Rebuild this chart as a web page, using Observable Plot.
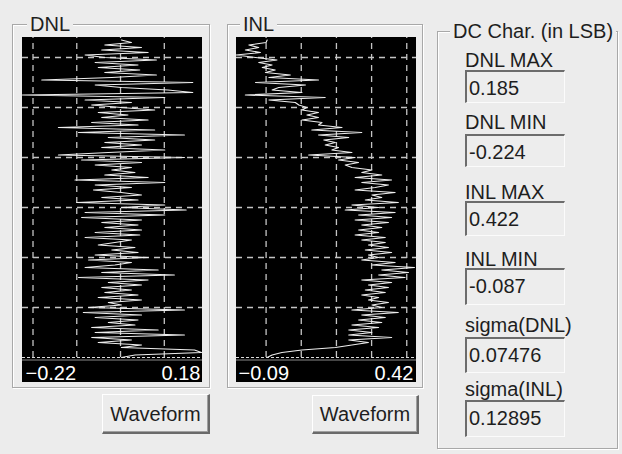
<!DOCTYPE html>
<html>
<head>
<meta charset="utf-8">
<script src="https://cdn.jsdelivr.net/npm/d3@7"></script>
<script src="https://cdn.jsdelivr.net/npm/@observablehq/plot@0.6"></script>
<style>
  body { margin: 0; background: #ececec; font-family: "Liberation Sans", Arial, sans-serif; }
  #app { position: relative; width: 622px; height: 454px; overflow: hidden; background: #ececec; color: #1e1e1e; }
  .group { position: absolute; box-sizing: border-box; border: 1px solid #a8a8a8; box-shadow: inset 1px 1px 0 #fff, 1px 1px 0 #fff; }
  .gtitle { position: absolute; background: #ececec; font-size: 20px; line-height: 20px; padding: 0 3px; white-space: nowrap; }
  .lbl { position: absolute; font-size: 20px; line-height: 20px; white-space: nowrap; }
  .field { position: absolute; box-sizing: border-box; background: #ededed;
           border-top: 2px solid #6c6c6c; border-left: 2px solid #6c6c6c;
           border-right: 1px solid #fbfbfb; border-bottom: 1px solid #fbfbfb; }
  .field span { position: absolute; left: 2px; font-size: 20px; line-height: 20px; white-space: nowrap; }
  .btn { position: absolute; box-sizing: border-box; background: #ececec;
         border-top: 1px solid #fff; border-left: 1px solid #fff;
         border-right: 2px solid #6a6a6a; border-bottom: 2px solid #6a6a6a;
         box-shadow: inset -1px -1px 0 #a0a0a0; font-size: 20px; line-height: 20px;
         text-align: center; }
  .plot { position: absolute; }
</style>
</head>
<body>
<div id="app"></div>
<script>
// Differential non-linearity per output code (LSB), code 0 .. 127
const dnl = [
  0.002, 0.033, 0.185, 0.169, 0.002, 0.048, -0.051, 0.025, -0.066, 0.146,
  -0.058, 0.086, -0.066, 0.033, -0.028, 0.040, -0.058, 0.048, -0.085, 0.146,
  -0.073, 0.002, -0.028, 0.048, -0.051, 0.040, -0.036, 0.025, -0.043, 0.048,
  -0.028, 0.063, -0.096, 0.123, -0.043, 0.086, -0.081, -0.013, 0.025, -0.073,
  0.063, -0.058, 0.040, -0.020, 0.033, -0.051, -0.013, 0.025, -0.081, 0.044,
  -0.058, 0.048, -0.036, 0.040, -0.043, 0.048, -0.089, 0.101, -0.081, 0.150,
  0.002, 0.101, -0.100, 0.040, -0.043, 0.048, 0.002, -0.062, 0.025, -0.058,
  0.101, -0.104, 0.063, -0.036, 0.033, -0.020, 0.025, -0.058, 0.048, -0.089,
  0.146, -0.142, -0.028, 0.101, -0.043, 0.048, -0.036, 0.078, -0.028, 0.146,
  -0.096, 0.078, -0.142, 0.040, -0.066, 0.063, -0.043, 0.017, -0.051, 0.078,
  0.002, -0.066, 0.025, -0.081, 0.101, -0.224, 0.165, 0.108, 0.002, -0.058,
  0.165, -0.180, -0.020, 0.082, -0.036, 0.044, -0.051, 0.040, -0.058, 0.082,
  -0.036, -0.081, 0.063, -0.043, 0.048, -0.036, 0.025, 0.002
];

// Integral non-linearity per output code (LSB), code 0 .. 127
const inl = [
  0.003, 0.017, 0.045, 0.102, 0.197, 0.244, 0.291, 0.235, 0.357, 0.235,
  0.301, 0.235, 0.320, 0.244, 0.329, 0.263, 0.339, 0.272, 0.376, 0.244,
  0.329, 0.301, 0.348, 0.291, 0.320, 0.272, 0.339, 0.282, 0.348, 0.291,
  0.357, 0.272, 0.395, 0.320, 0.405, 0.329, 0.422, 0.301, 0.367, 0.272,
  0.320, 0.291, 0.357, 0.282, 0.348, 0.291, 0.339, 0.272, 0.339, 0.253,
  0.320, 0.263, 0.329, 0.272, 0.348, 0.253, 0.357, 0.263, 0.367, 0.225,
  0.320, 0.244, 0.376, 0.282, 0.329, 0.301, 0.367, 0.253, 0.310, 0.348,
  0.272, 0.357, 0.253, 0.329, 0.272, 0.301, 0.244, 0.225, 0.263, 0.206,
  0.253, 0.121, 0.244, 0.187, 0.206, 0.168, 0.197, 0.164, 0.235, 0.149,
  0.272, 0.130, 0.216, 0.149, 0.159, 0.102, 0.149, 0.116, 0.149, 0.102,
  0.116, 0.093, 0.083, 0.008, 0.168, -0.059, 0.102, 0.017, 0.036, 0.112,
  -0.030, 0.149, 0.008, 0.069, -0.002, 0.026, -0.011, 0.017, -0.021, 0.031,
  -0.030, -0.087, -0.016, -0.059, -0.021, -0.049, 0.000, 0.003
];

// Grid positions (LSB) for each trace window, and code grid step
const dnlGrid = [-0.2, -0.1, 0, 0.1];
const inlGrid = [0, 0.1, 0.2, 0.3, 0.4];
const codeGrid = [20, 40, 60, 80, 100, 120];

// DC characteristics panel
const statNames = ["DNL MAX", "DNL MIN", "INL MAX", "INL MIN", "sigma(DNL)", "sigma(INL)"];
const statValues = ["0.185", "-0.224", "0.422", "-0.087", "0.07476", "0.12895"];

const app = document.getElementById("app");
const font = '"Liberation Sans", Arial, sans-serif';
const fmt2 = d3.format(".2f");

function el(cls, style, html) {
  const d = document.createElement("div");
  d.className = cls;
  Object.assign(d.style, style);
  if (html != null) d.innerHTML = html;
  app.appendChild(d);
  return d;
}

function tracePlot(values, grid, xRange) {
  const data = values.map((v, i) => ({code: i, v}));
  const ext = d3.extent(values);
  return Plot.plot({
    width: 180,
    height: 345,
    margin: 0,
    style: {background: "#000", fontFamily: font, overflow: "hidden"},
    x: {domain: ext, range: xRange, axis: null},
    y: {domain: [-10, 128], range: [345, 0], axis: null},
    marks: [
      Plot.ruleX(grid, {y1: 0, y2: 128, stroke: "#c4c4c4", strokeWidth: 1.3, strokeDasharray: "6,5"}),
      Plot.ruleY(codeGrid, {stroke: "#c4c4c4", strokeWidth: 1.3, strokeDasharray: "6,5"}),
      Plot.ruleY([0], {stroke: "#dcdcdc", strokeWidth: 1.2, strokeDasharray: "3,2"}),
      Plot.ruleY([-1], {stroke: "#8a8a8a", strokeWidth: 1}),
      Plot.line(data, {x: "v", y: "code", stroke: "#eeeeee", strokeWidth: 1.1}),
      Plot.text([ext[0]], {x: d => d, frameAnchor: "bottom", lineAnchor: "bottom", textAnchor: "start",
        text: d => fmt2(d), fill: "#fff", fontSize: 20, dx: 3, dy: -3}),
      Plot.text([ext[1]], {x: d => d, frameAnchor: "bottom", lineAnchor: "bottom", textAnchor: "end",
        text: d => fmt2(d), fill: "#fff", fontSize: 20, dx: -1, dy: -3})
    ]
  });
}

// Group frames
el("group", {left: "12px", top: "24px", width: "198px", height: "364px"});
el("group", {left: "227px", top: "24px", width: "196px", height: "364px"});
el("group", {left: "437px", top: "31px", width: "181px", height: "418px"});
el("gtitle", {left: "27px", top: "14px"}, "DNL");
el("gtitle", {left: "240px", top: "14px"}, "INL");
el("gtitle", {left: "450px", top: "21px"}, "DC Char. (in LSB)");

// Trace windows
const p1 = tracePlot(dnl, dnlGrid, [0, 179]);
p1.classList.add("plot");
Object.assign(p1.style, {left: "22px", top: "37px"});
app.appendChild(p1);

const p2 = tracePlot(inl, inlGrid, [-1, 178]);
p2.classList.add("plot");
Object.assign(p2.style, {left: "236px", top: "37px"});
app.appendChild(p2);

// Buttons
el("btn", {left: "102px", top: "394px", width: "108px", height: "40px", paddingTop: "9px"}, "Waveform");
el("btn", {left: "312px", top: "395px", width: "107px", height: "39px", paddingTop: "8px"}, "Waveform");

// Statistic labels and read-only fields
const labelTops = [50, 112, 182, 249, 315, 379];
const boxTops = [70, 134, 201, 268, 337, 400];
const boxH = [33, 33, 35, 37, 36, 37];
statNames.forEach((name, i) => {
  el("lbl", {left: "465px", top: labelTops[i] + "px"}, name);
  const f = el("field", {left: "465px", top: boxTops[i] + "px", width: "100px", height: boxH[i] + "px"});
  const s = document.createElement("span");
  s.textContent = statValues[i];
  s.style.top = "6px";
  f.appendChild(s);
});
</script>
</body>
</html>
